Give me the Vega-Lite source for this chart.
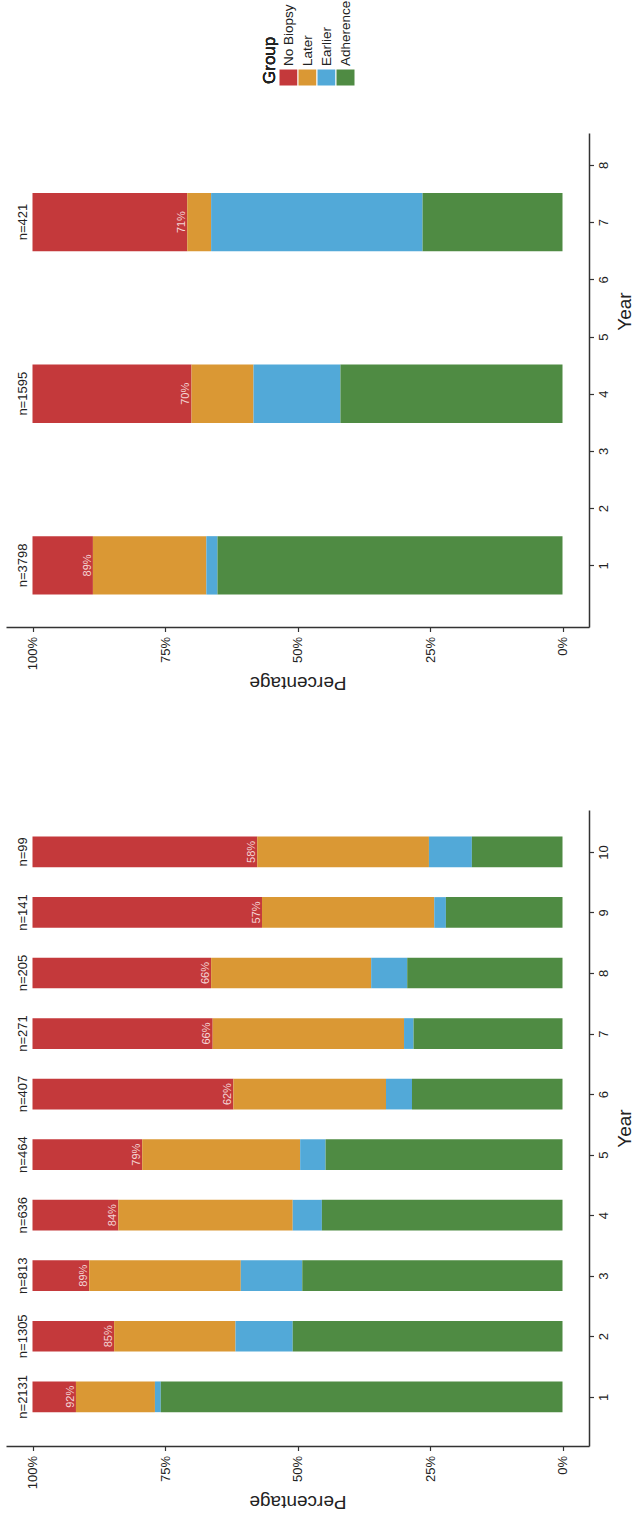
{
  "$schema": "https://vega.github.io/schema/vega-lite/v6.json",
  "padding": {"left": 6, "top": 0, "right": 0, "bottom": 0},
  "config": {
    "font": "Liberation Sans",
    "view": {"stroke": null},
    "axis": {
      "domainColor": "#333333", "domainWidth": 1.5,
      "tickColor": "#333333", "tickWidth": 1.2, "tickSize": 4.5,
      "labelColor": "#222222", "labelFontSize": 13,
      "titleColor": "#222222", "titleFontSize": 19, "titleFontWeight": "normal",
      "grid": false
    }
  },
  "datasets": {
    "legendItems": [
      {"Group": "No Biopsy"}, {"Group": "Later"}, {"Group": "Earlier"}, {"Group": "Adherence"}
    ],
    "topBars": [
      {"Year": 1, "Group": "No Biopsy", "Share": 0.114}, {"Year": 1, "Group": "Later", "Share": 0.214}, {"Year": 1, "Group": "Earlier", "Share": 0.021}, {"Year": 1, "Group": "Adherence", "Share": 0.651},
      {"Year": 4, "Group": "No Biopsy", "Share": 0.300}, {"Year": 4, "Group": "Later", "Share": 0.117}, {"Year": 4, "Group": "Earlier", "Share": 0.164}, {"Year": 4, "Group": "Adherence", "Share": 0.419},
      {"Year": 7, "Group": "No Biopsy", "Share": 0.292}, {"Year": 7, "Group": "Later", "Share": 0.045}, {"Year": 7, "Group": "Earlier", "Share": 0.399}, {"Year": 7, "Group": "Adherence", "Share": 0.264}
    ],
    "topLabels": [
      {"Year": 1, "label": "n=3798", "Biopsied": 0.886},
      {"Year": 4, "label": "n=1595", "Biopsied": 0.700},
      {"Year": 7, "label": "n=421", "Biopsied": 0.708}
    ],
    "bottomBars": [
      {"Year": 1, "Group": "No Biopsy", "Share": 0.082}, {"Year": 1, "Group": "Later", "Share": 0.149}, {"Year": 1, "Group": "Earlier", "Share": 0.011}, {"Year": 1, "Group": "Adherence", "Share": 0.758},
      {"Year": 2, "Group": "No Biopsy", "Share": 0.154}, {"Year": 2, "Group": "Later", "Share": 0.229}, {"Year": 2, "Group": "Earlier", "Share": 0.108}, {"Year": 2, "Group": "Adherence", "Share": 0.509},
      {"Year": 3, "Group": "No Biopsy", "Share": 0.107}, {"Year": 3, "Group": "Later", "Share": 0.286}, {"Year": 3, "Group": "Earlier", "Share": 0.116}, {"Year": 3, "Group": "Adherence", "Share": 0.491},
      {"Year": 4, "Group": "No Biopsy", "Share": 0.162}, {"Year": 4, "Group": "Later", "Share": 0.329}, {"Year": 4, "Group": "Earlier", "Share": 0.055}, {"Year": 4, "Group": "Adherence", "Share": 0.454},
      {"Year": 5, "Group": "No Biopsy", "Share": 0.207}, {"Year": 5, "Group": "Later", "Share": 0.298}, {"Year": 5, "Group": "Earlier", "Share": 0.048}, {"Year": 5, "Group": "Adherence", "Share": 0.447},
      {"Year": 6, "Group": "No Biopsy", "Share": 0.379}, {"Year": 6, "Group": "Later", "Share": 0.288}, {"Year": 6, "Group": "Earlier", "Share": 0.049}, {"Year": 6, "Group": "Adherence", "Share": 0.284},
      {"Year": 7, "Group": "No Biopsy", "Share": 0.340}, {"Year": 7, "Group": "Later", "Share": 0.361}, {"Year": 7, "Group": "Earlier", "Share": 0.018}, {"Year": 7, "Group": "Adherence", "Share": 0.281},
      {"Year": 8, "Group": "No Biopsy", "Share": 0.337}, {"Year": 8, "Group": "Later", "Share": 0.302}, {"Year": 8, "Group": "Earlier", "Share": 0.068}, {"Year": 8, "Group": "Adherence", "Share": 0.293},
      {"Year": 9, "Group": "No Biopsy", "Share": 0.433}, {"Year": 9, "Group": "Later", "Share": 0.325}, {"Year": 9, "Group": "Earlier", "Share": 0.022}, {"Year": 9, "Group": "Adherence", "Share": 0.220},
      {"Year": 10, "Group": "No Biopsy", "Share": 0.424}, {"Year": 10, "Group": "Later", "Share": 0.324}, {"Year": 10, "Group": "Earlier", "Share": 0.081}, {"Year": 10, "Group": "Adherence", "Share": 0.171}
    ],
    "bottomLabels": [
      {"Year": 1, "label": "n=2131", "Biopsied": 0.918},
      {"Year": 2, "label": "n=1305", "Biopsied": 0.846},
      {"Year": 3, "label": "n=813", "Biopsied": 0.893},
      {"Year": 4, "label": "n=636", "Biopsied": 0.838},
      {"Year": 5, "label": "n=464", "Biopsied": 0.793},
      {"Year": 6, "label": "n=407", "Biopsied": 0.621},
      {"Year": 7, "label": "n=271", "Biopsied": 0.660},
      {"Year": 8, "label": "n=205", "Biopsied": 0.663},
      {"Year": 9, "label": "n=141", "Biopsied": 0.567},
      {"Year": 10, "label": "n=99", "Biopsied": 0.576}
    ]
  },
  "spacing": 118,
  "vconcat": [
    {
      "spacing": 46,
      "vconcat": [
        {
          "width": 583,
          "height": 17,
          "data": {"name": "legendItems"},
          "layer": [
            {
              "mark": {"type": "bar", "stroke": "white", "strokeWidth": 1},
              "encoding": {
                "x": {"field": "Group", "type": "nominal",
                  "scale": {"type": "band", "domain": ["Group", "No Biopsy", "Later", "Earlier", "Adherence"], "range": [254, 349], "paddingInner": 0, "paddingOuter": 0},
                  "axis": null},
                "color": {"field": "Group", "type": "nominal",
                  "scale": {"domain": ["No Biopsy", "Later", "Earlier", "Adherence"], "range": ["#C4393B", "#DA9834", "#52A9D8", "#4F8B43"]},
                  "legend": null}
              }
            },
            {
              "mark": {"type": "text", "angle": 270, "align": "left", "baseline": "middle", "dx": 11.5, "fontSize": 13.5, "color": "#222222"},
              "encoding": {
                "x": {"field": "Group", "type": "nominal"},
                "text": {"field": "Group"}
              }
            },
            {
              "mark": {"type": "text", "angle": 270, "align": "left", "baseline": "middle", "dx": -6.5, "fontSize": 17, "fontWeight": "normal", "color": "#222222"},
              "encoding": {
                "x": {"datum": "Group", "type": "nominal"},
                "text": {"value": "Group"}
              }
            }
          ]
        },
        {
          "width": 583,
          "height": 494,
          "layer": [
            {
              "data": {"name": "topBars"},
              "mark": {"type": "bar", "orient": "horizontal", "size": 58.4},
              "encoding": {
                "y": {"field": "Year", "type": "quantitative",
                  "scale": {"domain": [0.01, 8.47], "nice": false, "zero": false},
                  "axis": {"orient": "right", "values": [1, 2, 3, 4, 5, 6, 7, 8], "format": "d", "labelAngle": 270, "labelAlign": "center", "labelBaseline": "top", "labelPadding": 4, "title": "Year", "titleAngle": 270, "titleBaseline": "top", "titlePadding": 5, "titleY": 178}},
                "x": {"field": "Share", "type": "quantitative", "stack": "zero",
                  "scale": {"domain": [-0.05, 1.05], "reverse": true, "nice": false, "zero": false},
                  "axis": {"orient": "bottom", "values": [0, 0.25, 0.5, 0.75, 1], "format": ".0%", "labelAngle": 270, "labelAlign": "right", "labelBaseline": "middle", "labelPadding": 5, "labelFlush": false, "title": "Percentage", "titleAngle": 180, "titleBaseline": "bottom", "titlePadding": 3}},
                "color": {"field": "Group", "type": "nominal",
                  "scale": {"domain": ["No Biopsy", "Later", "Earlier", "Adherence"], "range": ["#C4393B", "#DA9834", "#52A9D8", "#4F8B43"]},
                  "legend": null},
                "order": {"field": "Group", "type": "nominal", "sort": "ascending"}
              }
            },
            {
              "data": {"name": "topLabels"},
              "mark": {"type": "text", "angle": 270, "align": "center", "baseline": "alphabetic", "dy": -5.6, "fontSize": 13, "color": "#222222"},
              "encoding": {
                "y": {"field": "Year", "type": "quantitative"},
                "x": {"datum": 1, "type": "quantitative"},
                "text": {"field": "label"}
              }
            },
            {
              "data": {"name": "topLabels"},
              "mark": {"type": "text", "angle": 270, "align": "center", "baseline": "alphabetic", "dy": -2.3, "fontSize": 11, "color": "#F4D6D6"},
              "encoding": {
                "y": {"field": "Year", "type": "quantitative"},
                "x": {"field": "Biopsied", "type": "quantitative"},
                "text": {"field": "Biopsied", "type": "quantitative", "format": ".0%"}
              }
            }
          ]
        }
      ]
    },
    {
      "width": 583,
      "height": 636,
      "layer": [
        {
          "data": {"name": "bottomBars"},
          "mark": {"type": "bar", "orient": "horizontal", "size": 30.7},
          "encoding": {
            "y": {"field": "Year", "type": "quantitative",
              "scale": {"domain": [0.27, 10.61], "nice": false, "zero": false},
              "axis": {"orient": "right", "values": [1, 2, 3, 4, 5, 6, 7, 8, 9, 10], "format": "d", "labelAngle": 270, "labelAlign": "center", "labelBaseline": "top", "labelPadding": 4, "title": "Year", "titleAngle": 270, "titleBaseline": "top", "titlePadding": 5}},
            "x": {"field": "Share", "type": "quantitative", "stack": "zero",
              "scale": {"domain": [-0.05, 1.05], "reverse": true, "nice": false, "zero": false},
              "axis": {"orient": "bottom", "values": [0, 0.25, 0.5, 0.75, 1], "format": ".0%", "labelAngle": 270, "labelAlign": "right", "labelBaseline": "middle", "labelPadding": 5, "labelFlush": false, "title": "Percentage", "titleAngle": 180, "titleBaseline": "bottom", "titlePadding": 3}},
            "color": {"field": "Group", "type": "nominal",
              "scale": {"domain": ["No Biopsy", "Later", "Earlier", "Adherence"], "range": ["#C4393B", "#DA9834", "#52A9D8", "#4F8B43"]},
              "legend": null},
            "order": {"field": "Group", "type": "nominal", "sort": "ascending"}
          }
        },
        {
          "data": {"name": "bottomLabels"},
          "mark": {"type": "text", "angle": 270, "align": "center", "baseline": "alphabetic", "dy": -5.6, "fontSize": 13, "color": "#222222"},
          "encoding": {
            "y": {"field": "Year", "type": "quantitative"},
            "x": {"datum": 1, "type": "quantitative"},
            "text": {"field": "label"}
          }
        },
        {
          "data": {"name": "bottomLabels"},
          "mark": {"type": "text", "angle": 270, "align": "center", "baseline": "alphabetic", "dy": -2.3, "fontSize": 11, "color": "#F4D6D6"},
          "encoding": {
            "y": {"field": "Year", "type": "quantitative"},
            "x": {"field": "Biopsied", "type": "quantitative"},
            "text": {"field": "Biopsied", "type": "quantitative", "format": ".0%"}
          }
        }
      ]
    }
  ]
}
